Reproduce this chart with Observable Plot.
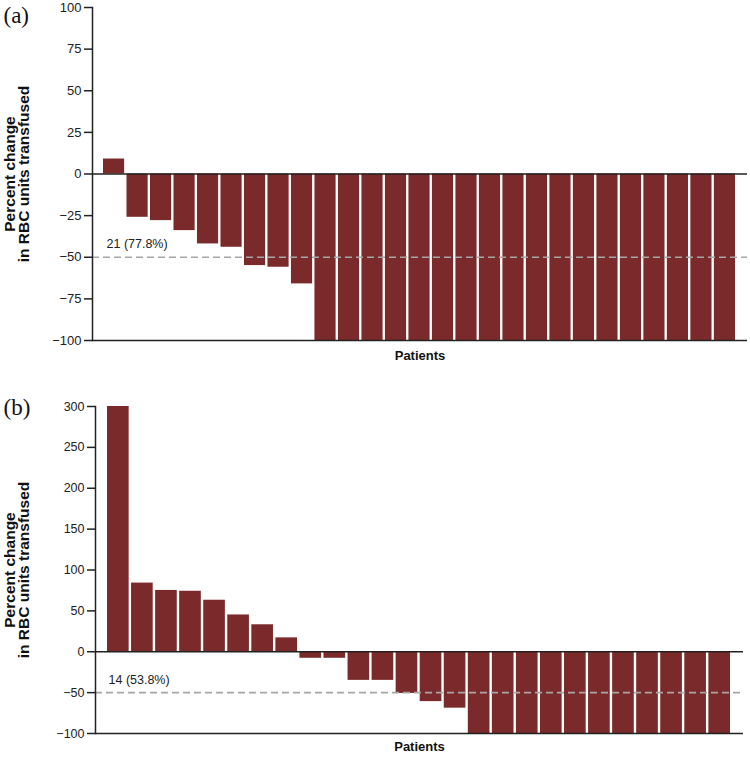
<!DOCTYPE html>
<html>
<head>
<meta charset="utf-8">
<script src="https://cdn.jsdelivr.net/npm/d3@7"></script>
<script src="https://cdn.jsdelivr.net/npm/@observablehq/plot@0.6"></script>
<style>
  body { margin: 0; background: #fff; }
  #chart svg { display: block; }
</style>
</head>
<body>
<div id="chart"></div>
<script>
// Panel (a): percent change per patient (27 patients)
const valuesA = [9, -26, -28, -34, -42, -44, -55, -56, -66,
  -100, -100, -100, -100, -100, -100, -100, -100, -100,
  -100, -100, -100, -100, -100, -100, -100, -100, -100];
// Panel (b): percent change per patient (26 patients)
const valuesB = [300, 84, 75, 74, 63, 45, 33, 17, -8, -8, -35, -35, -51, -61, -69,
  -100, -100, -100, -100, -100, -100, -100, -100, -100, -100, -100];
const ticksA = [-100, -75, -50, -25, 0, 25, 50, 75, 100];
const ticksB = [-100, -50, 0, 50, 100, 150, 200, 250, 300];
const panelLabels = ["(a)", "(b)"];
const responders = ["21 (77.8%)", "14 (53.8%)"];
const yLabel = "Percent change\nin RBC units transfused";
const xLabel = "Patients";
const threshold = -50;

const barColor = "#7a2a2a";
const font = "Liberation Sans, Arial, Helvetica, sans-serif";

function panel(values, ticks, domain, panelLabel, respLabel, opts) {
  const data = values.map((v, i) => ({id: i + 1, value: v}));
  return Plot.plot({
    width: 750,
    height: opts.height,
    marginLeft: opts.ml,
    marginRight: opts.mr,
    marginTop: opts.mt,
    marginBottom: opts.mb,
    style: {fontFamily: font, fontSize: "13px", color: "#222", background: "#fff"},
    x: {type: "band", domain: data.map(d => d.id), paddingInner: 0.1, paddingOuter: 0, round: false,
        insetLeft: opts.il, insetRight: opts.ir, axis: null},
    y: {domain: domain, ticks: ticks, axis: null},
    marks: [
      Plot.barY(data, {x: "id", y: "value", fill: barColor}),
      Plot.ruleY([threshold], {stroke: "#a6a6a6", strokeWidth: 1.6, strokeDasharray: "7,4"}),
      Plot.ruleY([0], {stroke: "#222", strokeWidth: 1.5}),
      Plot.ruleY([domain[0]], {stroke: "#222", strokeWidth: 1.5}),
      Plot.axisY({ticks: ticks, label: null, tickSize: 8, tickPadding: 3,
                  tickFormat: d => d < 0 ? "\u2212" + Math.abs(d) : String(d),
                  fontSize: opts.tfs, stroke: "#222", strokeWidth: 1.5}),
      Plot.frame({anchor: "left", stroke: "#222", strokeWidth: 1.5}),
      Plot.text([respLabel], {frameAnchor: "left", y: threshold, dx: opts.rdx, dy: -13,
                  textAnchor: "start", fontSize: 12.5, fill: "#222"}),
      Plot.text([yLabel], {frameAnchor: "left", dx: -opts.ml + 17, rotate: -90, lineHeight: 0.92,
                  textAnchor: "middle", fontWeight: "bold", fontSize: 15.5, fill: "#111"}),
      Plot.text([xLabel], {frameAnchor: "bottom", dy: opts.xdy, fontWeight: "bold", fontSize: 13, fill: "#111"}),
      Plot.text([panelLabel], {frameAnchor: "top-left", dx: -opts.ml + 3, dy: opts.pdy, textAnchor: "start",
                  lineAnchor: "top",
                  fontFamily: "Liberation Serif, Times New Roman, serif", fontSize: 23, fill: "#111"})
    ]
  });
}

const chart = document.getElementById("chart");
chart.append(panel(valuesA, ticksA, [-100, 100], panelLabels[0], responders[0],
  {height: 370, ml: 92, mr: 3, mt: 7, mb: 30, il: 11, ir: 12, rdx: 14, xdy: 19, pdy: -1, tfs: 13}));
chart.append(panel(valuesB, ticksB, [-100, 300], panelLabels[1], responders[1],
  {height: 390, ml: 95, mr: 7, mt: 36, mb: 27, il: 12, ir: 13, rdx: 13, xdy: 17, pdy: -8, tfs: 12.5}));
</script>
</body>
</html>
